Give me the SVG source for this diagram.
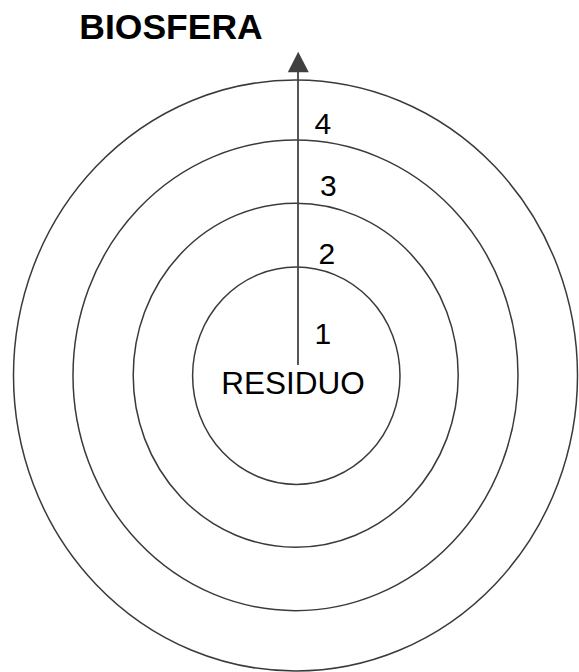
<svg xmlns="http://www.w3.org/2000/svg" width="579" height="672" viewBox="0 0 579 672">
<style>
.ring{fill:none;stroke:#3a3a3a;stroke-width:1.5}
.lbl{font-family:"Liberation Sans",Arial,sans-serif;font-size:30px;fill:#000}
.title{font-family:"Liberation Sans",Arial,sans-serif;font-size:35.5px;font-weight:bold;fill:#000}
</style>
<rect width="579" height="672" fill="#fff"/>
<g id="ring4"><ellipse class="ring" cx="295.5" cy="375.5" rx="282" ry="295.5"/></g>
<g id="ring3"><ellipse class="ring" cx="295.5" cy="375.4" rx="222.5" ry="235.3"/></g>
<g id="ring2"><ellipse class="ring" cx="295.7" cy="375.3" rx="162.5" ry="172"/></g>
<g id="ring1"><ellipse class="ring" cx="296.3" cy="375.7" rx="103.7" ry="108.7"/></g>
<g id="connectors">
<line x1="298" y1="365" x2="298" y2="70" stroke="#444" stroke-width="1.8"/>
<polygon points="298.2,51.7 308.8,72.3 287.8,72.3" fill="#404040"/>
</g>
<g id="labels">
<text class="title" x="171" y="39.3" text-anchor="middle">BIOSFERA</text>
<text class="lbl" x="314.5" y="134">4</text>
<text class="lbl" x="320" y="196">3</text>
<text class="lbl" x="318.5" y="264">2</text>
<text class="lbl" x="314.5" y="344">1</text>
<text class="lbl" x="293" y="394" text-anchor="middle" style="font-size:31.5px">RESIDUO</text>
</g>
</svg>
